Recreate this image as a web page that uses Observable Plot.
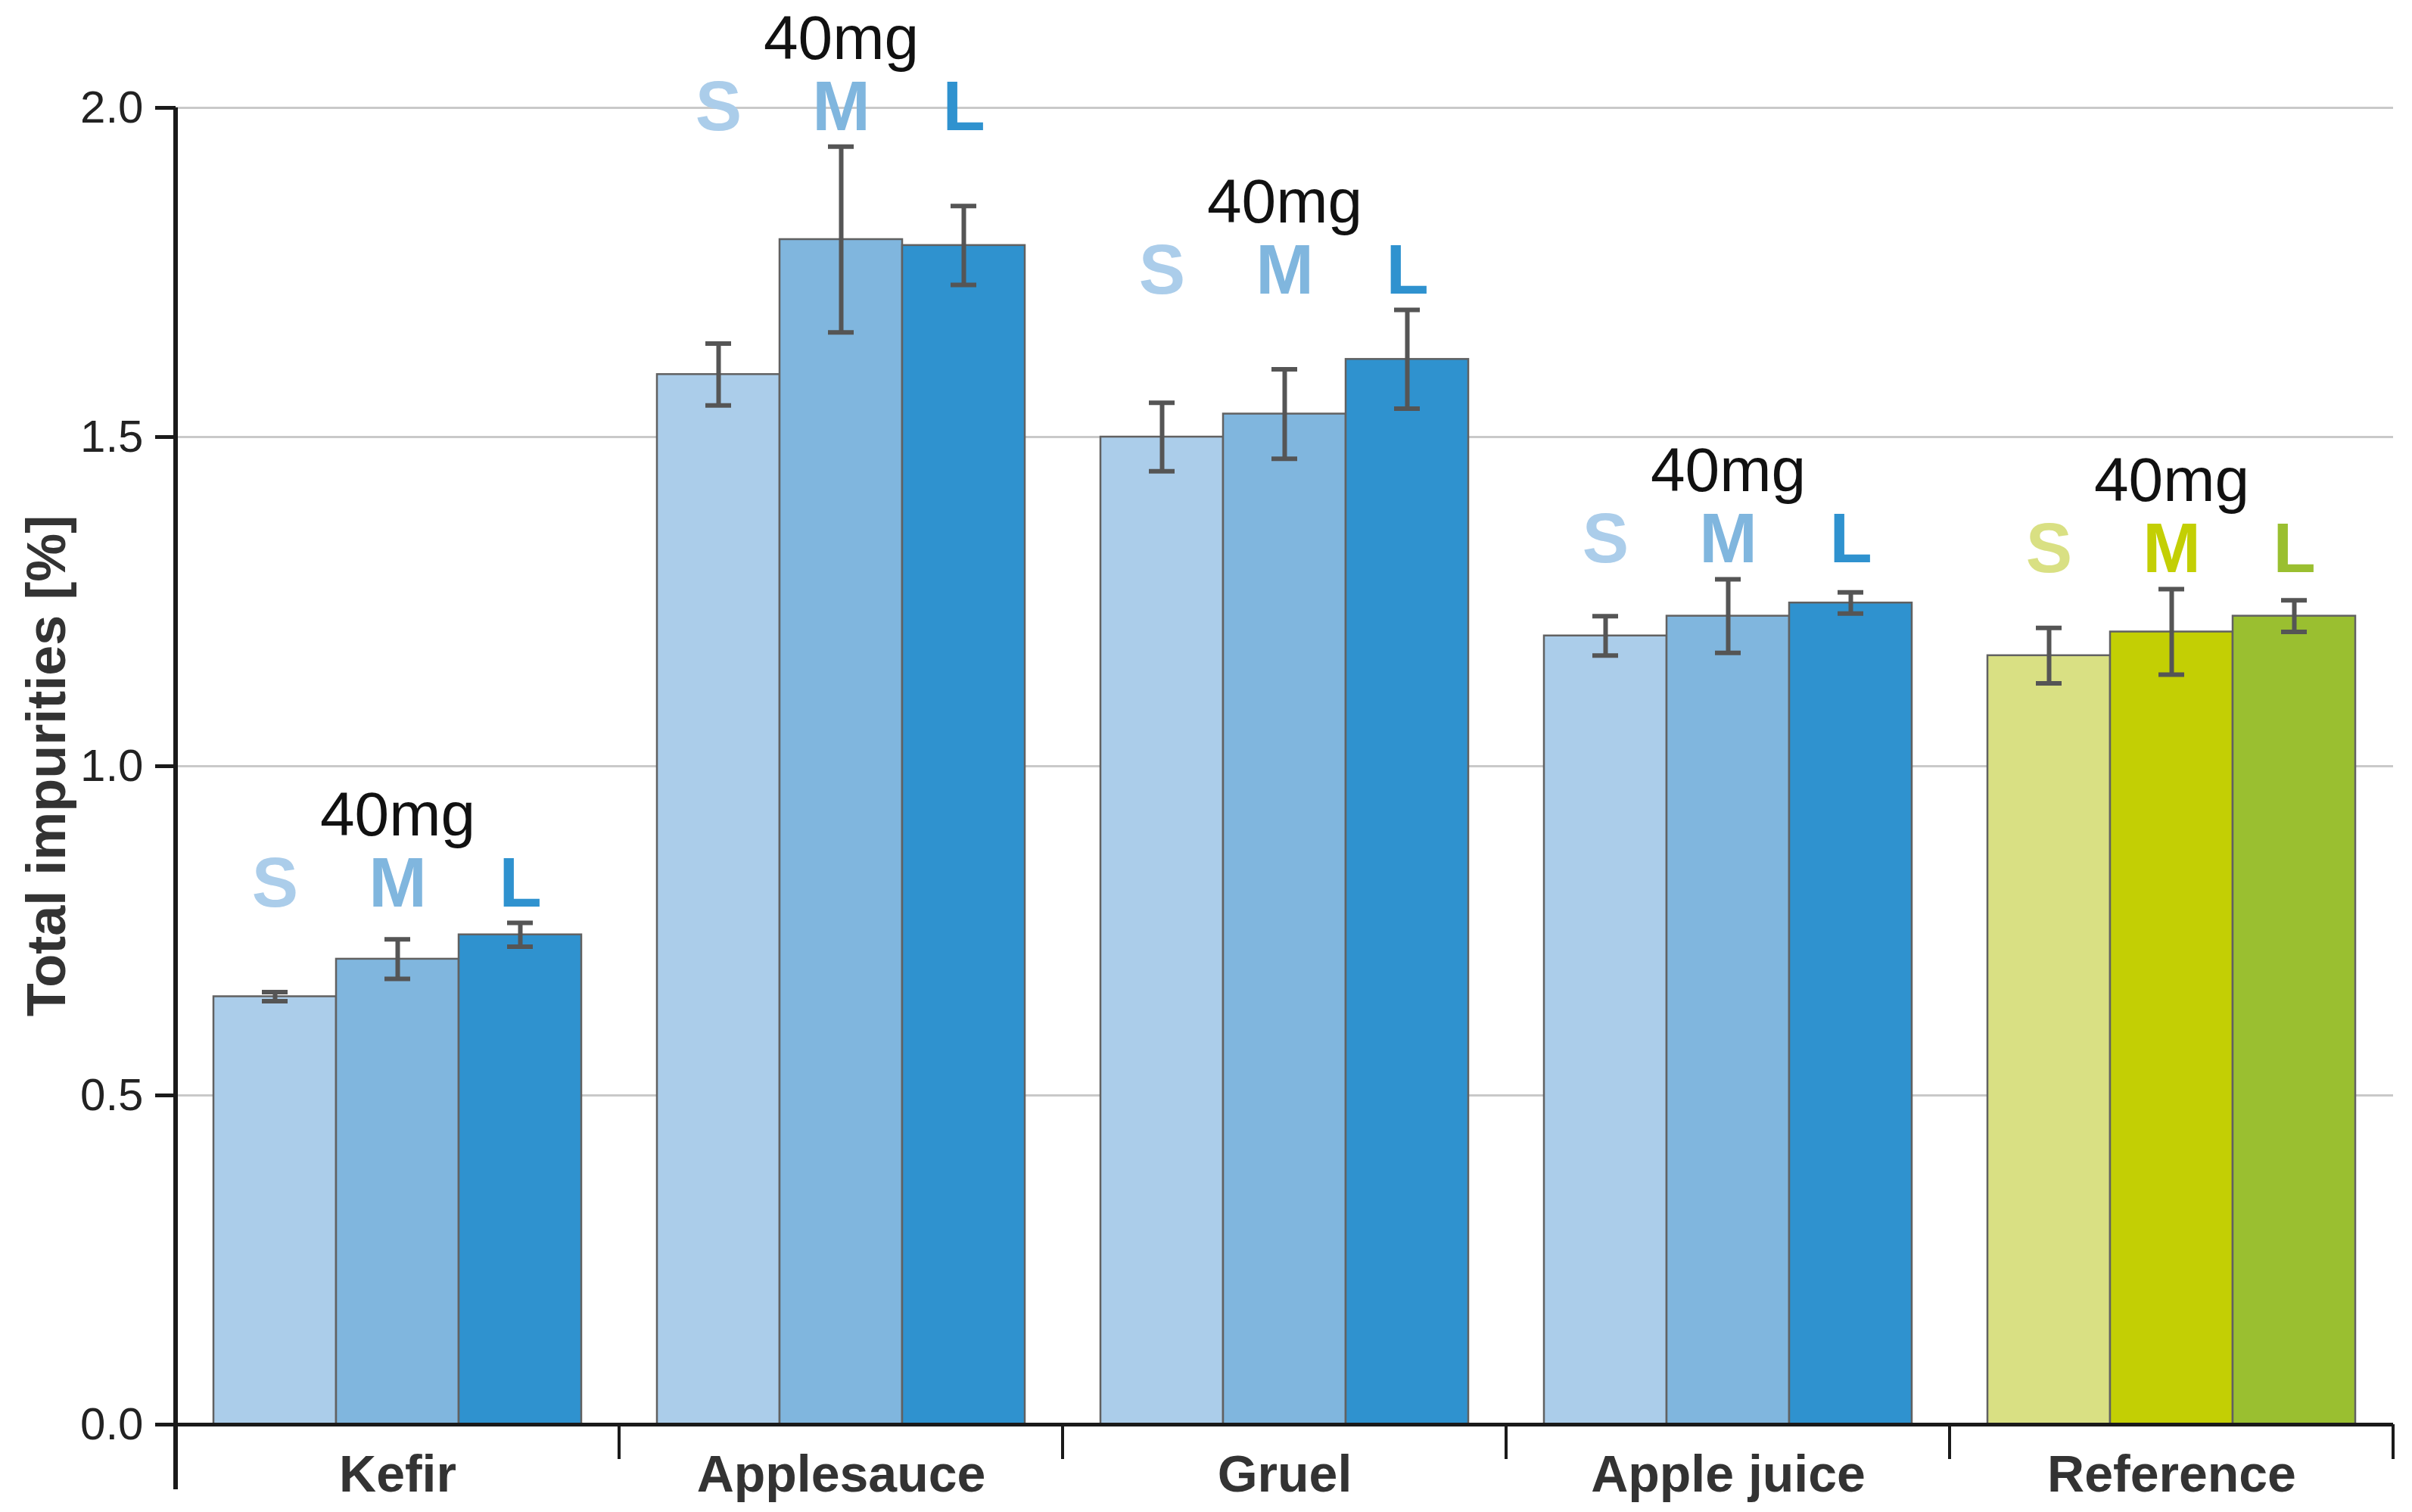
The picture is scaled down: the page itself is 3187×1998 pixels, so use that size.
<!DOCTYPE html>
<html><head><meta charset="utf-8">
<script src="https://cdn.jsdelivr.net/npm/d3@7"></script>
<script src="https://cdn.jsdelivr.net/npm/@observablehq/plot@0.6"></script>
<style>html,body{margin:0;padding:0;background:#fff;} #chart svg{display:block;}</style>
</head><body><div id="chart"></div>
<script>
const groups = ["Kefir", "Applesauce", "Gruel", "Apple juice", "Reference"];
const sizes = ["S", "M", "L"];
const sValues = [0.650, 1.595, 1.500, 1.198, 1.168];
const mValues = [0.707, 1.800, 1.535, 1.228, 1.204];
const lValues = [0.744, 1.791, 1.618, 1.248, 1.228];
const sErr = [0.007, 0.047, 0.052, 0.030, 0.042];
const mErr = [0.030, 0.141, 0.068, 0.056, 0.065];
const lErr = [0.018, 0.060, 0.075, 0.016, 0.024];
const groupPalette = ["blue", "blue", "blue", "blue", "green"];
const palettes = {blue: ["#abcdea", "#80b6de", "#2f92cf"], green: ["#d9e083", "#c3cf04", "#9abf30"]};
const doseLabel = "40mg";
const yTicks = [0, 0.5, 1.0, 1.5, 2.0];
const yLabel = "Total impurities [%]";

const valueSets = [sValues, mValues, lValues];
const errSets = [sErr, mErr, lErr];
const rows = [];
groups.forEach((g, i) => {
  sizes.forEach((s, j) => {
    const v = valueSets[j][i], e = errSets[j][i];
    rows.push({group: g, size: s, value: v, lo: v - e, hi: v + e, color: palettes[groupPalette[i]][j]});
  });
});
const groupTops = groups.map(g => ({group: g, top: d3.max(rows.filter(r => r.group === g), r => r.hi)}));
const labelRows = rows.map(r => ({...r, top: groupTops.find(t => t.group === r.group).top}));

const W = 3187, H = 1998;
const font = "'Liberation Sans', Arial, Helvetica, sans-serif";
const plot = Plot.plot({
  width: W, height: H,
  marginLeft: 231, marginRight: 25, marginTop: 142, marginBottom: 116,
  style: {fontFamily: font, background: "#fff", overflow: "visible"},
  fx: {domain: groups, padding: 0, label: null},
  x: {domain: sizes, paddingInner: 0, paddingOuter: 0.3, axis: null},
  y: {domain: [0, 2], label: null},
  marks: [
    Plot.ruleY(yTicks.filter(d => d > 0), {stroke: "#c9c9c9", strokeWidth: 3}),
    Plot.barY(rows, {fx: "group", x: "size", y: "value", fill: "color", stroke: "#616161", strokeWidth: 2.5}),
    Plot.ruleX(rows, {fx: "group", x: "size", y1: "lo", y2: "hi", stroke: "#555", strokeWidth: 6}),
    Plot.tickY(rows, {fx: "group", x: "size", y: "lo", stroke: "#555", strokeWidth: 6, insetLeft: 64, insetRight: 64}),
    Plot.tickY(rows, {fx: "group", x: "size", y: "hi", stroke: "#555", strokeWidth: 6, insetLeft: 64, insetRight: 64}),
    Plot.ruleY([0], {stroke: "#1a1a1a", strokeWidth: 5}),
    Plot.text(labelRows, {fx: "group", x: "size", y: "top", text: "size", fill: "color", fontSize: 92, fontWeight: "bold", lineAnchor: "bottom", dy: -22}),
    Plot.text(groupTops, {fx: "group", y: "top", text: () => doseLabel, fill: "#111", fontSize: 82, lineAnchor: "bottom", dy: -116}),
    Plot.axisY({ticks: yTicks, tickFormat: d => d.toFixed(1), tickSize: 27, tickPadding: 16, fontSize: 60, strokeWidth: 5, stroke: "#1a1a1a", fill: "#222", label: null}),
    Plot.axisFx({anchor: "bottom", tickSize: 0, tickPadding: 40, fontSize: 68, fontWeight: "bold", fill: "#333", label: null})
  ]
});
document.getElementById("chart").append(plot);

// group separators, y axis line and y label, positioned with the plot's own scales
const fx = plot.scale("fx"), y = plot.scale("y");
const svg = d3.select(plot);
const edges = groups.map(g => fx.apply(g));
edges.push(fx.apply(groups[groups.length - 1]) + fx.bandwidth);
const y0 = y.apply(0), yTop = y.apply(2);
const g = svg.append("g").attr("stroke", "#1a1a1a");
edges.forEach((xe, i) => {
  g.append("line")
    .attr("x1", xe).attr("x2", xe)
    .attr("y1", i === 0 ? yTop : y0)
    .attr("y2", i === 0 ? y0 + 86 : y0 + 46)
    .attr("stroke-width", i === 0 ? 6 : 4);
});
svg.append("text")
  .attr("transform", `translate(61,${(y0 + yTop) / 2}) rotate(-90)`)
  .attr("text-anchor", "middle").attr("dy", "0.35em")
  .attr("font-family", font).attr("font-size", 72).attr("font-weight", "bold")
  .attr("fill", "#333")
  .text(yLabel);
</script>
</body></html>
